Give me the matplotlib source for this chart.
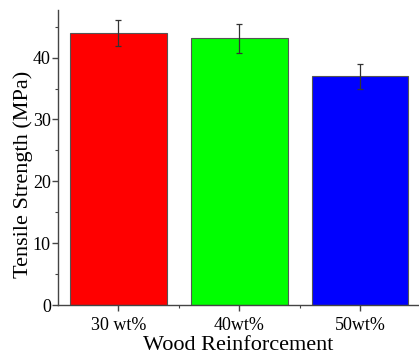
import numpy as np
import matplotlib
matplotlib.use("Agg")
import matplotlib.pyplot as plt
from matplotlib.ticker import MultipleLocator

# data
labels = ["30 wt%", "40wt%", "50wt%"]
strength = [44.0, 43.1, 37.0]
errors = [2.15, 2.3, 2.0]
colors = ["#ff0000", "#00ff00", "#0000ff"]

plt.rcParams["font.family"] = ["Liberation Serif", "DejaVu Serif"]

fig = plt.figure(figsize=(4.19, 3.54), dpi=100)
ax = fig.add_axes([0.138, 0.138, 0.86, 0.834])

x = np.arange(len(labels))
ax.bar(x, strength, width=0.8, color=colors, edgecolor="#555555", linewidth=0.8,
       yerr=errors, error_kw=dict(ecolor="#333333", elinewidth=0.9, capsize=2.5, capthick=0.9))

ax.set_xlim(-0.5, 2.48)
ax.set_ylim(0, 47.7)
ax.set_xticks(x)
ax.set_xticklabels(labels)
ax.set_xticks([0.5, 1.5], minor=True)
ax.yaxis.set_major_locator(MultipleLocator(10))
ax.yaxis.set_minor_locator(MultipleLocator(5))

for s in ["top", "right"]:
    ax.spines[s].set_visible(False)
for s in ["left", "bottom"]:
    ax.spines[s].set_color("#444444")
    ax.spines[s].set_linewidth(1.0)

ax.tick_params(axis="both", which="major", direction="out", length=4, width=1.0,
               color="#444444", labelsize=13)
ax.tick_params(axis="x", which="major", pad=4.5)
ax.tick_params(axis="y", which="major", pad=1)
ax.tick_params(axis="both", which="minor", direction="out", length=2, width=0.8, color="#444444")

ax.set_xlabel("Wood Reinforcement", fontsize=16, labelpad=1.5)
ax.set_ylabel("Tensile Strength (MPa)", fontsize=16)
ax.yaxis.set_label_coords(-0.07, 0.444)

fig.savefig("out.png", dpi=100)
